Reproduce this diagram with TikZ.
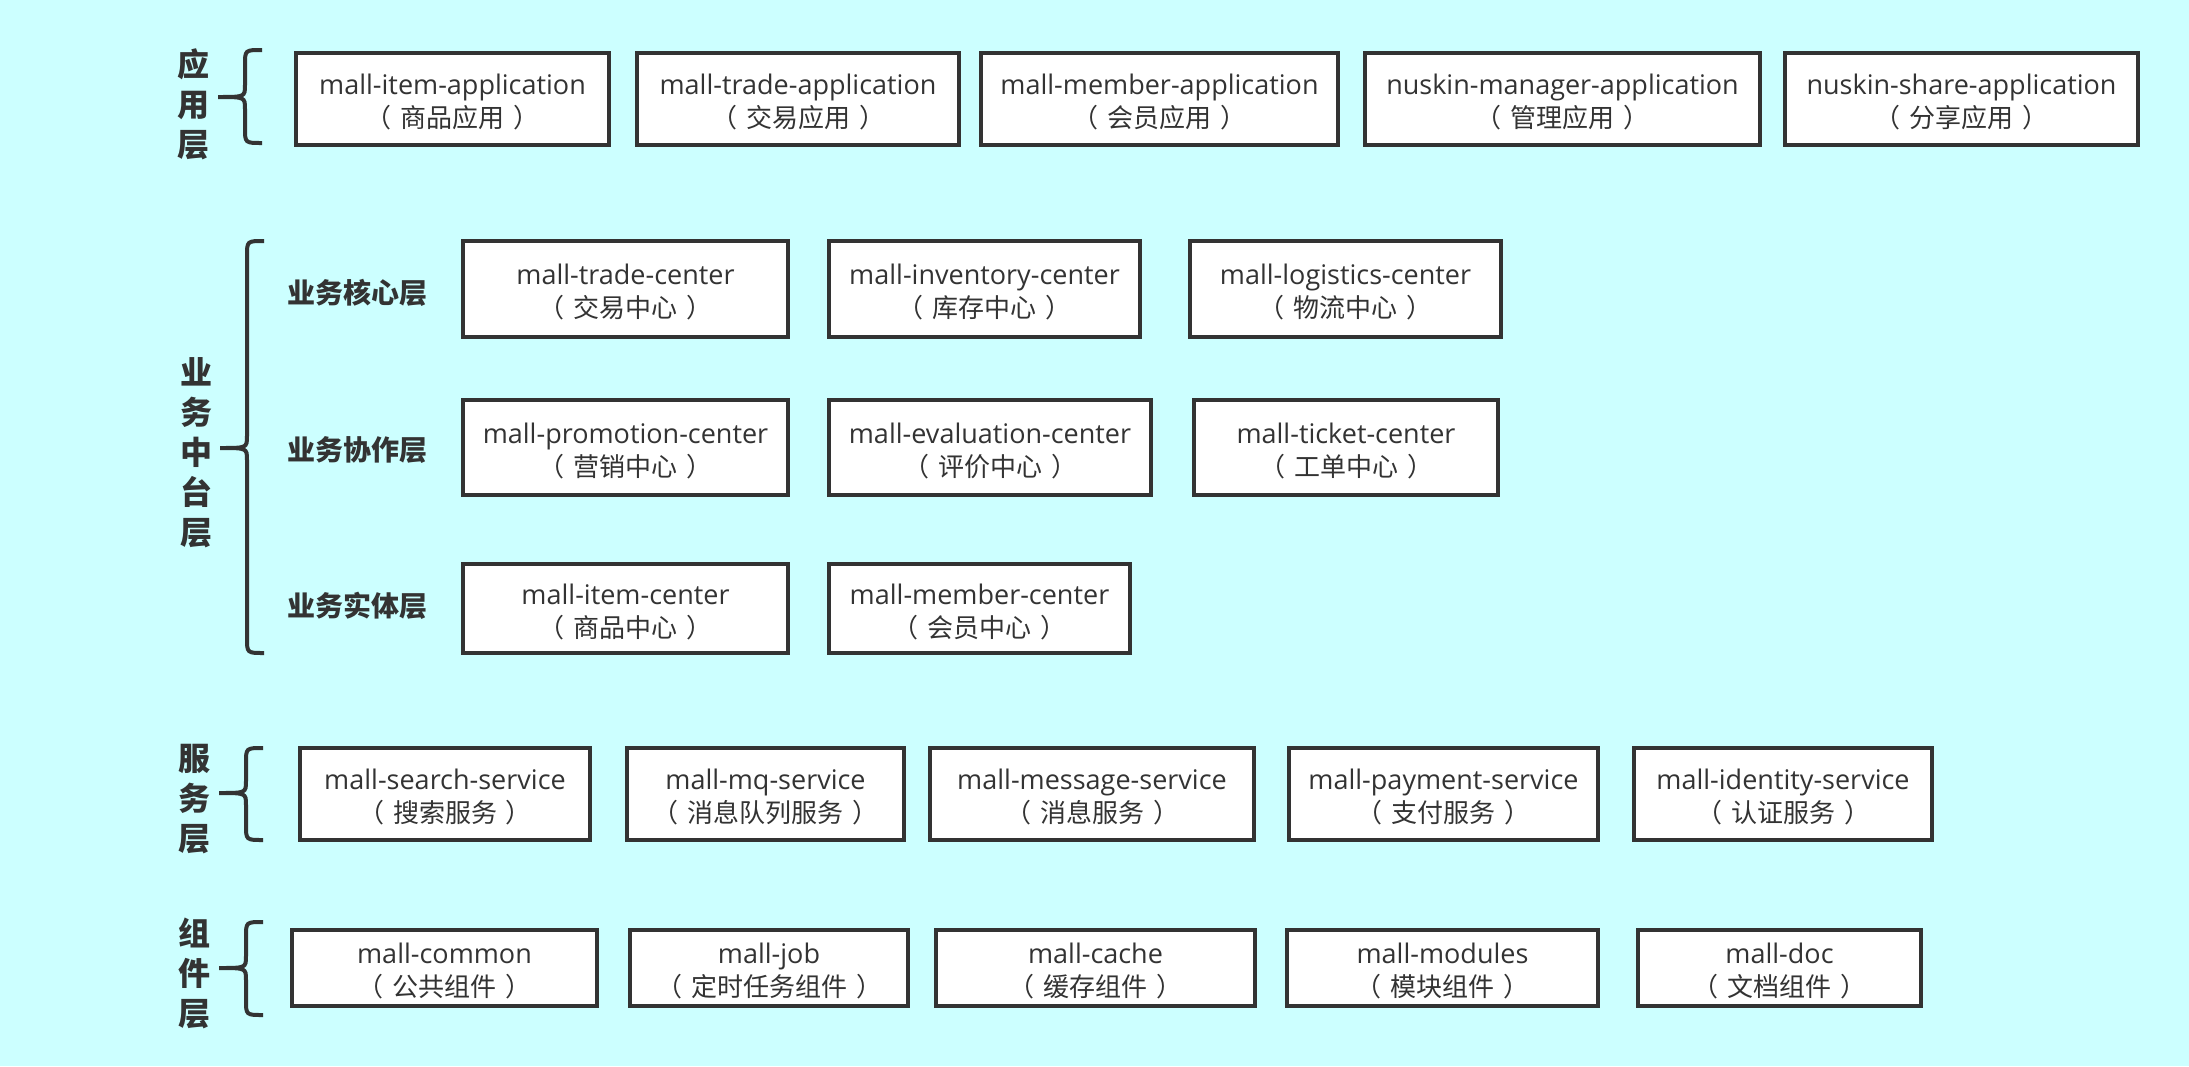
\documentclass[tikz,border=0pt]{standalone}
\usepackage{fontspec}
\setmainfont{Open Sans}
\newfontfamily\cjkfont{Noto Sans CJK SC}
\usetikzlibrary{positioning}
\definecolor{bgcyan}{HTML}{CCFFFF}
\definecolor{inkgray}{HTML}{333333}
% two-line module label: english name, chinese name in full-width brackets
\newcommand{\modtext}[2]{\rule{0pt}{27pt}#1\\{\cjkfont\fontsize{26}{33}\selectfont （\kern9pt#2\kern9pt）}}
% left curly brace: right x, top y, tip y, bottom y
\newcommand{\layerbrace}[4]{%
  \draw[brace] (#1,#2) .. controls (#1-17,#2) .. (#1-17,#2+15) -- (#1-17,#3-12)
    .. controls (#1-17,#3) .. (#1-44,#3) .. controls (#1-17,#3) .. (#1-17,#3+12)
    -- (#1-17,#4-15) .. controls (#1-17,#4) .. (#1,#4);}

\begin{document}
\begin{tikzpicture}[
  x=1pt, y=-1pt,
  modbox/.style 2 args={draw=inkgray, line width=4pt, fill=white, text=inkgray, align=center,
    inner sep=0pt, minimum width=#1, minimum height=#2, font=\fontsize{27}{33}\selectfont},
  layer/.style={text=inkgray, align=center, inner sep=0pt, font=\cjkfont\bfseries\fontsize{32}{40}\selectfont},
  sublayer/.style={text=inkgray, inner sep=0pt, font=\cjkfont\bfseries\fontsize{28}{34}\selectfont},
  brace/.style={draw=inkgray, line width=4pt},
]
  \fill[bgcyan] (0,0) rectangle (2189,1066);

  % application layer
  \node[layer] (applbl) at (193,104) {应\\用\\层};
  \layerbrace{262}{50}{97}{143}
  \node[modbox={313pt}{92pt}] (itemapp) at (452.5,99) {\modtext{mall-item-application}{商品应用}};
  \node[modbox={322pt}{92pt}, right=24pt of itemapp] (tradeapp) {\modtext{mall-trade-application}{交易应用}};
  \node[modbox={357pt}{92pt}, right=18pt of tradeapp] (memberapp) {\modtext{mall-member-application}{会员应用}};
  \node[modbox={395pt}{92pt}, right=23pt of memberapp] (managerapp) {\modtext{nuskin-manager-application}{管理应用}};
  \node[modbox={353pt}{92pt}, right=21pt of managerapp] (shareapp) {\modtext{nuskin-share-application}{分享应用}};

  % business middle platform
  \node[layer] (bizlbl) at (196,453) {业\\务\\中\\台\\层};
  \layerbrace{264}{241}{448}{653}

  \node[sublayer] (corelbl) at (357.5,292.5) {业务核心层};
  \node[modbox={325pt}{96pt}] (tradecenter) at (625.5,289) {\modtext{mall-trade-center}{交易中心}};
  \node[modbox={311pt}{96pt}, right=37pt of tradecenter] (invcenter) {\modtext{mall-inventory-center}{库存中心}};
  \node[modbox={311pt}{96pt}, right=46pt of invcenter] (logcenter) {\modtext{mall-logistics-center}{物流中心}};

  \node[sublayer] (collablbl) at (357.5,450) {业务协作层};
  \node[modbox={325pt}{95pt}] (promcenter) at (625.5,447.5) {\modtext{mall-promotion-center}{营销中心}};
  \node[modbox={322pt}{95pt}, right=37pt of promcenter] (evalcenter) {\modtext{mall-evaluation-center}{评价中心}};
  \node[modbox={304pt}{95pt}, right=39pt of evalcenter] (ticketcenter) {\modtext{mall-ticket-center}{工单中心}};

  \node[sublayer] (entitylbl) at (357.5,606) {业务实体层};
  \node[modbox={325pt}{89pt}] (itemcenter) at (625.5,608.5) {\modtext{mall-item-center}{商品中心}};
  \node[modbox={301pt}{89pt}, right=37pt of itemcenter] (membercenter) {\modtext{mall-member-center}{会员中心}};

  % service layer
  \node[layer] (svclbl) at (194,799) {服\\务\\层};
  \layerbrace{263}{748}{793}{840}
  \node[modbox={290pt}{92pt}] (searchsvc) at (445,794) {\modtext{mall-search-service}{搜索服务}};
  \node[modbox={277pt}{92pt}, right=33pt of searchsvc] (mqsvc) {\modtext{mall-mq-service}{消息队列服务}};
  \node[modbox={324pt}{92pt}, right=22pt of mqsvc] (msgsvc) {\modtext{mall-message-service}{消息服务}};
  \node[modbox={309pt}{92pt}, right=31pt of msgsvc] (paysvc) {\modtext{mall-payment-service}{支付服务}};
  \node[modbox={298pt}{92pt}, right=32pt of paysvc] (idsvc) {\modtext{mall-identity-service}{认证服务}};

  % component layer
  \node[layer] (complbl) at (194,973) {组\\件\\层};
  \layerbrace{263}{922}{968}{1015}
  \node[modbox={305pt}{76pt}] (common) at (444.5,968) {\modtext{mall-common}{公共组件}};
  \node[modbox={278pt}{76pt}, right=29pt of common] (job) {\modtext{mall-job}{定时任务组件}};
  \node[modbox={319pt}{76pt}, right=24pt of job] (cache) {\modtext{mall-cache}{缓存组件}};
  \node[modbox={311pt}{76pt}, right=28pt of cache] (modules) {\modtext{mall-modules}{模块组件}};
  \node[modbox={283pt}{76pt}, right=36pt of modules] (doc) {\modtext{mall-doc}{文档组件}};
\end{tikzpicture}
\end{document}
